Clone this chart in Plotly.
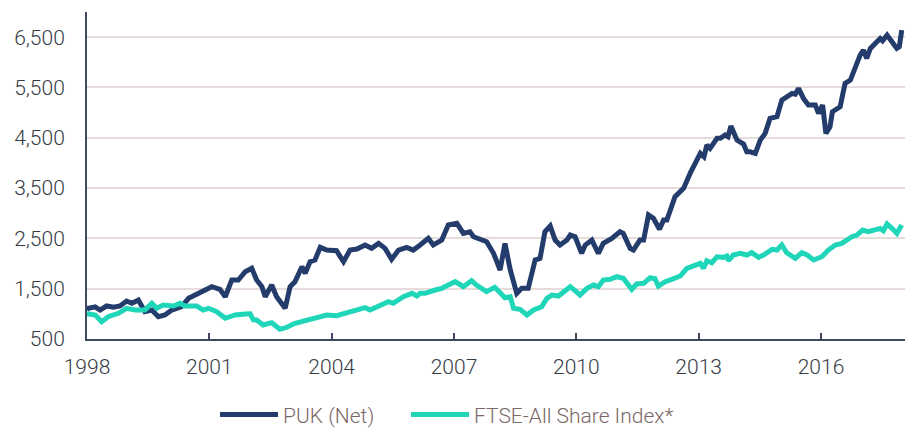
import plotly.graph_objects as go

puk_years = [1998.00, 1998.03, 1998.20, 1998.32, 1998.48, 1998.65, 1998.81, 1998.97, 1999.10, 1999.26,
             1999.42, 1999.59, 1999.75, 1999.91, 2000.08, 2000.32, 2000.49, 2000.73, 2001.06, 2001.26,
             2001.39, 2001.55, 2001.71, 2001.88, 2002.04, 2002.16, 2002.29, 2002.37, 2002.53, 2002.65,
             2002.86, 2002.98, 2003.10, 2003.27, 2003.35, 2003.47, 2003.59, 2003.72, 2003.88, 2004.12,
             2004.29, 2004.45, 2004.62, 2004.82, 2004.98, 2005.15, 2005.31, 2005.47, 2005.64, 2005.84,
             2006.00, 2006.17, 2006.37, 2006.49, 2006.70, 2006.86, 2007.07, 2007.23, 2007.39, 2007.48,
             2007.60, 2007.80, 2007.97, 2008.13, 2008.25, 2008.38, 2008.54, 2008.66, 2008.82, 2008.99,
             2009.11, 2009.23, 2009.36, 2009.48, 2009.60, 2009.77, 2009.85, 2009.97, 2010.13, 2010.22,
             2010.38, 2010.54, 2010.66, 2010.87, 2011.07, 2011.15, 2011.32, 2011.40, 2011.56, 2011.65,
             2011.77, 2011.89, 2012.04, 2012.14, 2012.22, 2012.42, 2012.63, 2012.79, 2013.04, 2013.13,
             2013.20, 2013.28, 2013.45, 2013.53, 2013.65, 2013.72, 2013.79, 2013.94, 2014.10, 2014.18,
             2014.26, 2014.39, 2014.51, 2014.63, 2014.75, 2014.92, 2015.04, 2015.16, 2015.29, 2015.37,
             2015.45, 2015.57, 2015.69, 2015.86, 2015.94, 2016.04, 2016.12, 2016.22, 2016.28, 2016.47,
             2016.59, 2016.72, 2016.84, 2016.96, 2017.04, 2017.12, 2017.21, 2017.33, 2017.45, 2017.51,
             2017.62, 2017.74, 2017.86, 2017.92, 2017.98]
puk_values = [1070, 1110, 1140, 1076, 1156, 1130, 1156, 1255, 1210, 1275,
              1043, 1076, 943, 977, 1076, 1142, 1308, 1408, 1540, 1488,
              1340, 1672, 1672, 1837, 1905, 1672, 1540, 1340, 1573, 1340,
              1110, 1540, 1639, 1937, 1805, 2036, 2070, 2322, 2268, 2254,
              2036, 2268, 2288, 2368, 2302, 2401, 2302, 2083, 2268, 2322,
              2268, 2368, 2501, 2368, 2467, 2765, 2799, 2600, 2632, 2533,
              2501, 2433, 2203, 1871, 2401, 1871, 1408, 1507, 1507, 2070,
              2103, 2632, 2745, 2467, 2368, 2467, 2566, 2533, 2203, 2368,
              2467, 2203, 2401, 2501, 2632, 2600, 2302, 2268, 2467, 2467,
              2964, 2898, 2680, 2865, 2865, 3328, 3494, 3792, 4190, 4122,
              4355, 4289, 4488, 4488, 4554, 4521, 4732, 4454, 4375, 4222,
              4222, 4190, 4454, 4587, 4885, 4918, 5249, 5314, 5381, 5368,
              5481, 5282, 5150, 5150, 4985, 5150, 4587, 4719, 5017, 5116,
              5581, 5646, 5911, 6143, 6242, 6077, 6276, 6375, 6475, 6428,
              6541, 6408, 6276, 6309, 6640]

ftse_years = [1998.00, 1998.20, 1998.36, 1998.52, 1998.77, 1998.97, 1999.18, 1999.42, 1999.59, 1999.71,
              1999.87, 2000.12, 2000.28, 2000.40, 2000.69, 2000.85, 2000.98, 2001.18, 2001.39, 2001.63,
              2001.88, 2002.00, 2002.08, 2002.16, 2002.32, 2002.53, 2002.73, 2002.90, 2003.10, 2003.35,
              2003.63, 2003.88, 2004.12, 2004.37, 2004.62, 2004.82, 2004.94, 2005.19, 2005.39, 2005.51,
              2005.76, 2005.97, 2006.09, 2006.17, 2006.29, 2006.54, 2006.70, 2006.86, 2007.03, 2007.23,
              2007.43, 2007.55, 2007.68, 2007.80, 2008.00, 2008.13, 2008.25, 2008.38, 2008.46, 2008.62,
              2008.79, 2008.95, 2009.15, 2009.28, 2009.40, 2009.56, 2009.68, 2009.85, 2009.97, 2010.09,
              2010.26, 2010.42, 2010.54, 2010.66, 2010.83, 2010.99, 2011.15, 2011.28, 2011.36, 2011.48,
              2011.65, 2011.81, 2011.93, 2012.01, 2012.18, 2012.34, 2012.55, 2012.71, 2012.91, 2013.04,
              2013.12, 2013.20, 2013.32, 2013.45, 2013.61, 2013.69, 2013.73, 2013.85, 2014.02, 2014.18,
              2014.30, 2014.47, 2014.59, 2014.80, 2014.92, 2015.04, 2015.16, 2015.37, 2015.53, 2015.66,
              2015.82, 2016.02, 2016.18, 2016.35, 2016.51, 2016.63, 2016.76, 2016.88, 2017.02, 2017.16,
              2017.29, 2017.45, 2017.53, 2017.62, 2017.74, 2017.86, 2017.98]
ftse_values = [1000, 977, 844, 943, 1011, 1110, 1076, 1076, 1209, 1110,
               1176, 1156, 1209, 1156, 1156, 1076, 1110, 1043, 911, 977,
               997, 1000, 880, 877, 778, 824, 693, 733, 812, 864,
               943, 977, 963, 1011, 1076, 1122, 1076, 1176, 1241, 1209,
               1340, 1408, 1354, 1408, 1408, 1474, 1507, 1573, 1639, 1540,
               1659, 1573, 1488, 1440, 1527, 1408, 1321, 1340, 1110, 1090,
               977, 1076, 1142, 1308, 1374, 1354, 1440, 1540, 1460, 1374,
               1507, 1573, 1540, 1672, 1686, 1738, 1706, 1573, 1488, 1593,
               1607, 1718, 1698, 1553, 1639, 1686, 1752, 1905, 1970, 2004,
               1905, 2056, 2016, 2135, 2123, 2149, 2056, 2169, 2203, 2169,
               2215, 2123, 2169, 2282, 2268, 2368, 2215, 2103, 2215, 2169,
               2070, 2135, 2268, 2368, 2401, 2467, 2533, 2566, 2666, 2632,
               2666, 2699, 2652, 2785, 2699, 2600, 2765]

x_tick_vals = [1998, 2001, 2004, 2007, 2010, 2013, 2016]
x_tick_text = ["1998", "2001", "2004", "2007", "2010", "2013", "2016"]
y_tick_vals = [500, 1500, 2500, 3500, 4500, 5500, 6500]

series_names = ["PUK (Net)", "FTSE-All Share Index*"]
series_colors = ["#243c6c", "#1fd6b8"]

fig = go.Figure()
fig.add_trace(go.Scatter(x=puk_years, y=puk_values, mode="lines", name=series_names[0],
                         line=dict(color=series_colors[0], width=5), legend="legend"))
fig.add_trace(go.Scatter(x=ftse_years, y=ftse_values, mode="lines", name=series_names[1],
                         line=dict(color=series_colors[1], width=5), legend="legend2"))

tick_font = dict(family="Roboto, Liberation Sans, sans-serif", size=21, color="#363b45", weight=300)
legend_font = dict(family="Roboto, Liberation Sans, sans-serif", size=21, color="#7a6868", weight=300)

fig.update_layout(
    width=911, height=429,
    margin=dict(l=87, r=6, t=12, b=90, autoexpand=False),
    paper_bgcolor="white", plot_bgcolor="white",
    showlegend=True,
    legend=dict(orientation="h", xref="paper", yref="paper",
                x=0.1565, xanchor="left", y=-0.232, yanchor="middle",
                font=legend_font, itemwidth=58, tracegroupgap=0, bgcolor="rgba(0,0,0,0)"),
    legend2=dict(orientation="h", xref="paper", yref="paper",
                 x=0.390, xanchor="left", y=-0.232, yanchor="middle",
                 font=legend_font, itemwidth=58, tracegroupgap=0, bgcolor="rgba(0,0,0,0)"),
    xaxis=dict(range=[1998, 2018.06], tickmode="array", tickvals=x_tick_vals, ticktext=x_tick_text,
               showgrid=False, zeroline=False, showline=True, linecolor="#3d4a5f", linewidth=2,
               ticks="inside", ticklen=6, tickwidth=2, tickcolor="#3d4a5f", automargin=False,
               tickfont=tick_font, ticklabelstandoff=8),
    yaxis=dict(range=[500, 7000], tickmode="array", tickvals=y_tick_vals, tickformat=",",
               showgrid=True, gridcolor="#e6dcdc", gridwidth=2, zeroline=False, automargin=False,
               showline=True, linecolor="#3d4a5f", linewidth=2, ticks="",
               tickfont=tick_font, ticklabelstandoff=16),
)

fig.write_html("out.html", config={"displayModeBar": False},
               post_script="document.body.style.margin='0';")
